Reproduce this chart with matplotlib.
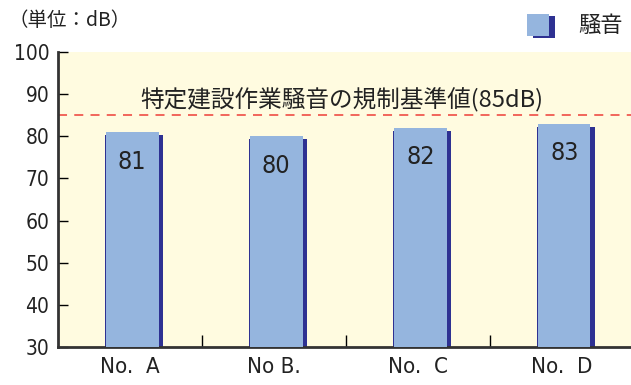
import matplotlib
matplotlib.use("Agg")
import matplotlib.pyplot as plt
from matplotlib.patches import Rectangle

categories = ["No.  A", "No B.", "No.  C", "No.  D"]
values = [81, 80, 82, 83]
limit_value = 85
limit_label = "特定建設作業騒音の規制基準値(85dB)"
unit_label = "（単位：dB）"
legend_label = "騒音"
yticks = [30, 40, 50, 60, 70, 80, 90, 100]

plt.rcParams["font.family"] = ["Noto Sans CJK JP", "DejaVu Sans"]
NUM = dict(family="DejaVu Sans", fontstretch="condensed")

W, H, DPI = 631, 385, 100
fig = plt.figure(figsize=(W / DPI, H / DPI), dpi=DPI)

ax_left = 57.5 / W
ax_bottom = 1 - 347 / H
ax_top = 1 - 52 / H
ax = fig.add_axes([ax_left, ax_bottom, 1 - ax_left, ax_top - ax_bottom])
ax.set_facecolor("#fffbe0")

px_per_cat = 144.0
xmax = (W - 57.5) / px_per_cat - 0.5
ax.set_xlim(-0.5, xmax)
ax.set_ylim(30, 100)

light = "#95b5de"
dark = "#2e3192"
px_y = (347 - 52) / 70.0  # px per unit

for i, v in enumerate(values):
    x0 = i + (104.6 - 129) / px_per_cat
    x1 = i + (162.8 - 129) / px_per_cat
    ax.add_patch(Rectangle((x0, 30), x1 - x0, v - 3 / px_y - 30,
                           facecolor=dark, edgecolor="none", zorder=2))
    lx0 = i + (105.6 - 129) / px_per_cat
    lx1 = i + (158.0 - 129) / px_per_cat
    ax.add_patch(Rectangle((lx0, 30), lx1 - lx0, v - 30,
                           facecolor=light, edgecolor="none", zorder=3))
    ax.text((lx0 + lx1) / 2, v - 7, str(v), ha="center", va="center",
            fontsize=18, color="#222222", zorder=4, **NUM)

ax.axhline(limit_value, color="#f05a50", lw=1.3, ls=(0, (5, 4)), zorder=1)
ax.text((341.5 - 57.5) / px_per_cat - 0.5, 88.6,
        limit_label, ha="center", va="center", fontsize=17, color="#222222")

for s in ["top", "right"]:
    ax.spines[s].set_visible(False)
for s in ["left", "bottom"]:
    ax.spines[s].set_linewidth(2)
    ax.spines[s].set_color("#333333")

ax.set_yticks(yticks)
ax.set_yticklabels([str(t) for t in yticks], fontsize=15, color="#222222", **NUM)
ax.tick_params(axis="y", direction="in", length=7, width=1, pad=6)
ax.set_xticks(range(len(categories)))
ax.set_xticklabels(categories, fontsize=16, color="#222222", **NUM)
ax.tick_params(axis="x", length=0, pad=7)
ax.set_xticks([0.5, 1.5, 2.5], minor=True)
ax.tick_params(axis="x", which="minor", direction="in", length=9, width=1)

fig.text(8 / W, 1 - 21 / H, unit_label, ha="left", va="center",
         fontsize=14, color="#222222")

# legend
lx, ly = 527, 14
fig.patches.append(Rectangle(((lx + 6) / W, 1 - (ly + 24) / H), 22 / W, 22 / H,
                             transform=fig.transFigure, facecolor=dark,
                             edgecolor="none"))
fig.patches.append(Rectangle((lx / W, 1 - (ly + 22) / H), 22 / W, 22 / H,
                             transform=fig.transFigure, facecolor=light,
                             edgecolor="none"))
fig.text(578 / W, 1 - 25 / H, legend_label, ha="left", va="center",
         fontsize=16, color="#222222")

fig.savefig("out.png", dpi=DPI)
